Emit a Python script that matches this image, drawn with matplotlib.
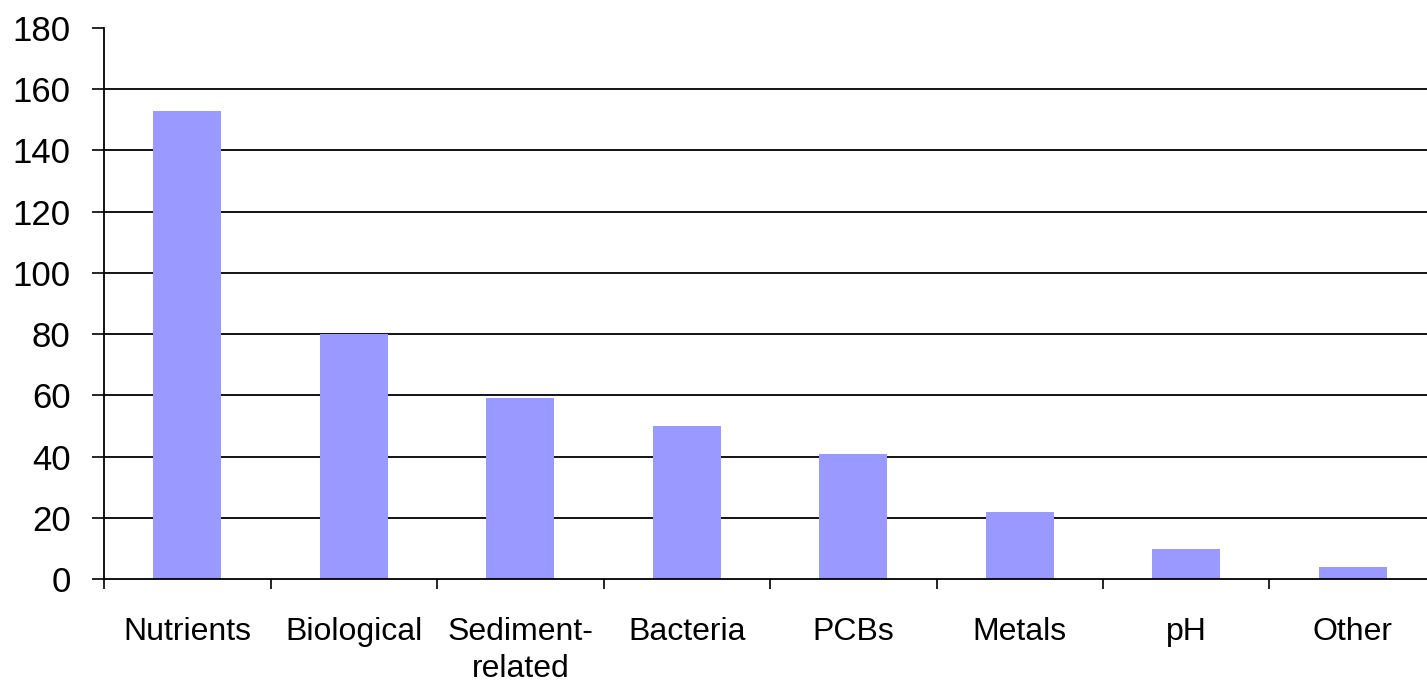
import matplotlib
matplotlib.use("Agg")
import matplotlib.pyplot as plt
import numpy as np

categories = ["Nutrients", "Biological", "Sediment-\nrelated", "Bacteria",
              "PCBs", "Metals", "pH", "Other"]
counts = [153, 80, 59, 50, 41, 22, 10, 4]
y_ticks = [0, 20, 40, 60, 80, 100, 120, 140, 160, 180]

plt.rcParams["font.family"] = ["Liberation Sans", "DejaVu Sans"]

fig = plt.figure(figsize=(14.27, 6.87), dpi=100)
ax = fig.add_axes([0.0729, 0.157, 0.9334, 0.8022])

x = np.arange(len(categories))

# horizontal grid lines behind the bars (none at top of axis)
for t in y_ticks[1:-1]:
    ax.axhline(t, color="black", linewidth=1.3, zorder=1)

ax.bar(x, counts, width=0.41, color="#9999ff", zorder=2)

ax.set_xlim(-0.5, len(categories) - 0.5)
ax.set_ylim(0, 180)
ax.set_yticks(y_ticks)
ax.tick_params(axis="y", direction="out", length=9, width=1.2, pad=15,
               labelsize=25)

# ticks between categories, labels centred under bars
ax.set_xticks(np.arange(-0.5, len(categories) + 0.5, 1))
ax.set_xticklabels([])
ax.set_xticks(x, minor=True)
ax.set_xticklabels(categories, minor=True, fontsize=23, linespacing=1.3)
ax.tick_params(axis="x", which="major", direction="out", length=7, width=1.2)
ax.tick_params(axis="x", which="minor", length=0, pad=27)

for side in ["top", "right"]:
    ax.spines[side].set_visible(False)
ax.spines["left"].set_linewidth(1.3)
ax.spines["bottom"].set_linewidth(1.3)

plt.savefig("out.png", dpi=100)
